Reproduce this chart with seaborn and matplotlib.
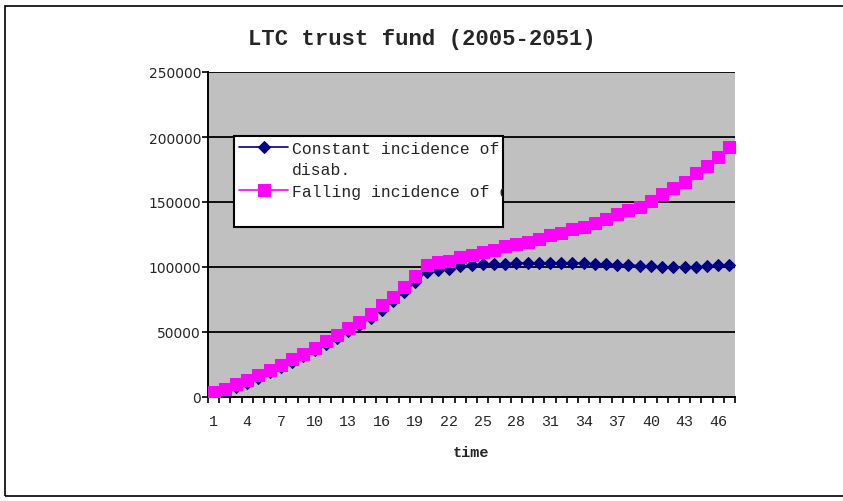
import numpy as np
import pandas as pd
import matplotlib
matplotlib.use("Agg")
import matplotlib.pyplot as plt
import seaborn as sns
from matplotlib.patches import Rectangle
from matplotlib.lines import Line2D
from matplotlib.transforms import Bbox, TransformedBbox
from matplotlib.ticker import MultipleLocator, FuncFormatter

# Data (values per year index, 2005-2051)
time = np.arange(1, 48)
constant = [2000, 4500, 8000, 11000, 15000, 19000, 23000, 27000, 31500, 36000,
            40500, 45500, 50500, 55500, 61000, 67000, 74000, 81000, 88500, 96500,
            98000, 98500, 100500, 101500, 102000, 102000, 102500, 103000, 103000, 103000,
            103000, 103000, 103000, 103000, 102000, 102000, 101500, 101500, 101000, 100500,
            100000, 100000, 100000, 100000, 100500, 101500, 101500]
falling = [3500, 6500, 10000, 13000, 17000, 20500, 25000, 29000, 33000, 38000,
           43000, 48000, 53000, 58000, 64000, 70500, 77000, 85000, 93000, 101500,
           103500, 105000, 107500, 109500, 111500, 113000, 116000, 117500, 119500, 121500,
           124500, 126000, 129000, 130500, 133500, 137000, 141000, 143500, 146500, 151000,
           156000, 160500, 165500, 172000, 178000, 184500, 192500]
series_labels = ["Constant incidence of disab.", "Falling incidence of disab."]
x_tick_values = list(range(1, 47, 3))
title = "LTC trust fund (2005-2051)"
x_label = "time"

sns.set_style("white")
plt.rcParams["font.family"] = ["Liberation Mono", "DejaVu Sans"]

W, H = 843, 502
fig = plt.figure(figsize=(W / 100, H / 100), dpi=100)
ax = fig.add_axes([208 / W, 1 - 398 / H, 527 / W, 325 / H])
ax.set_facecolor("#c0c0c0")

df = pd.DataFrame({"time": time, "constant": constant, "falling": falling})
sns.lineplot(data=df, x="time", y="constant", ax=ax, color="#000080",
             marker="D", markersize=6.2, markeredgecolor="#000080", lw=1.2,
             label=series_labels[0], zorder=3)
sns.lineplot(data=df, x="time", y="falling", ax=ax, color="#ff00ff",
             marker="s", markersize=8, markeredgecolor="#ff00ff", lw=1.2,
             label=series_labels[1], zorder=3)

# axes
ax.set_xlim(0.5, 47.5)
ax.set_ylim(0, 250000)
ax.set_xticks(x_tick_values)
ax.set_xticklabels([str(v) for v in x_tick_values], fontsize=10.8)
ax.set_xticks(np.arange(0.5, 48, 1), minor=True)
ax.tick_params(axis="x", which="major", length=0, pad=12)
ax.tick_params(axis="x", which="minor", length=4, width=1.2, direction="out",
               color="black", bottom=True)
ax.yaxis.set_major_locator(MultipleLocator(50000))
ax.yaxis.set_major_formatter(FuncFormatter(lambda v, p: f"{int(v)}"))
ax.tick_params(axis="y", length=4, width=1.2, direction="out", color="black",
               pad=1, left=True)
for t in ax.get_yticklabels():
    t.set_fontfamily("DejaVu Sans")
    t.set_fontsize(10)
ax.yaxis.grid(True, color="black", lw=1.3)
ax.xaxis.grid(False)
for s in ["top", "right"]:
    ax.spines[s].set_visible(False)
for s in ["left", "bottom"]:
    ax.spines[s].set_color("black")
    ax.spines[s].set_linewidth(1.4)
ax.set_ylabel("")
ax.set_xlabel(x_label, fontsize=11, fontweight="bold")
ax.xaxis.set_label_coords(0.5, -0.169)
ax.xaxis.label.set_va("center")

# legend in a fixed-size box, text wrapped and clipped like the original
bx0, bx1 = (234 - 208) / 527, (503 - 208) / 527
by0, by1 = (398 - 228) / 325, (398 - 137) / 325
box = Rectangle((bx0, by0), bx1 - bx0, by1 - by0, transform=ax.transAxes,
                facecolor="white", edgecolor="black", lw=1.5, zorder=4)
ax.add_patch(box)
handles, labels = ax.get_legend_handles_labels()
first, rest = labels[0].rsplit(" ", 1)
handles = [handles[0], Line2D([], [], color="none"), handles[1]]
labels = [first, rest, labels[1]]
leg = ax.legend(handles, labels, loc="upper left", bbox_to_anchor=(bx0, by1),
                frameon=False, prop={"family": "Liberation Mono", "size": 11.8},
                handlelength=3.0, handletextpad=0.25, borderpad=0.3,
                borderaxespad=0, labelspacing=0.4)
leg.set_zorder(5)
clip = TransformedBbox(Bbox.from_extents(bx0, by0, bx1, by1), ax.transAxes)
for t in leg.get_texts():
    t.set_clip_box(clip)
    t.set_clip_on(True)

fig.text(0.5, 1 - 40 / H, title, ha="center", va="center",
         fontsize=16, fontweight="bold", family="Liberation Mono")

# outer chart border
fig.add_artist(Rectangle((5 / W, 5 / H), 2, (497 - 7) / H, transform=fig.transFigure,
                         fill=False, edgecolor="black", lw=1.2))

fig.savefig("out.png", dpi=100)
